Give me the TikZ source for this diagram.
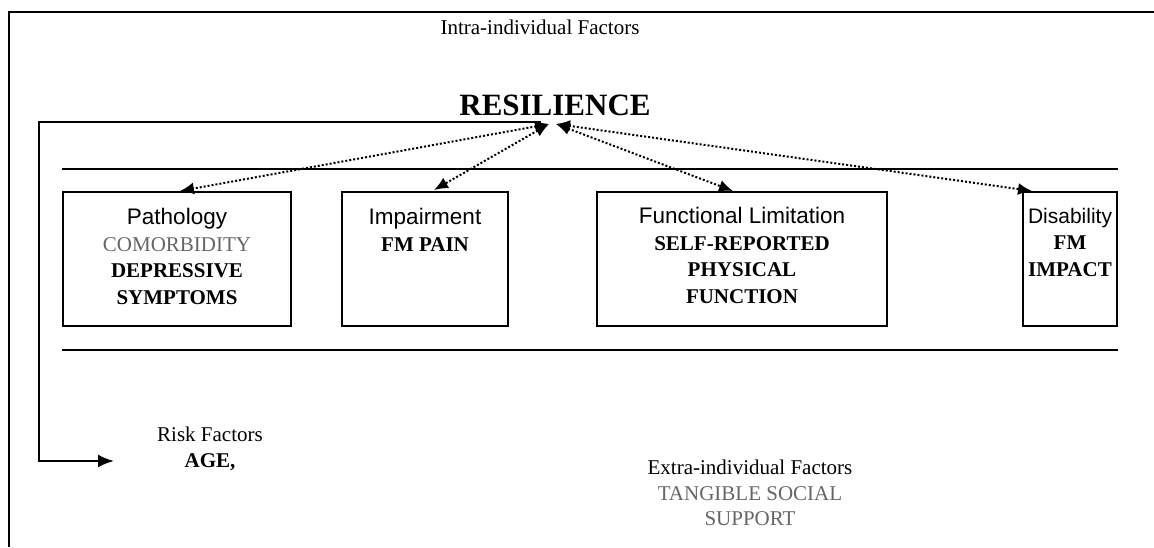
\documentclass[tikz,border=0pt]{standalone}
\usepackage{fontspec}
\setmainfont{Liberation Serif}
\setsansfont{Liberation Sans}
\usetikzlibrary{arrows.meta}
\definecolor{softgray}{HTML}{666666}
% sans heading line inside each stage box
\newcommand\stagehead{\fontsize{22.5}{26.5}\selectfont\sffamily}
\begin{document}
\begin{tikzpicture}[x=1pt,y=-1pt,
  frameline/.style={line width=2.4pt},
  rule/.style={line width=2.2pt},
  stagebox/.style={draw,line width=2.2pt},
  stagetext/.style={anchor=north,align=center,inner sep=0pt,
    font=\fontsize{21}{26.5}\selectfont},
  plain/.style={align=center,inner sep=0pt,font=\fontsize{21}{25.5}\selectfont},
  link/.style={line width=2pt,dash pattern=on 2pt off 2pt,
    {Latex[length=14pt,width=12pt]}-{Latex[length=14pt,width=12pt]}},
  feed/.style={line width=2.2pt,-{Latex[length=16pt,width=13pt]}},
]
\useasboundingbox (0,0) rectangle (1154,547);

% outer frame
\draw[frameline] (1154,12) -- (9,12) -- (9,547);

% headings
\node[plain] (intra) at (540,27) {Intra-individual Factors};
\node[inner sep=0pt,font=\fontsize{31}{34}\selectfont\bfseries] (res) at (555,105) {RESILIENCE};

% horizontal rules
\draw[rule] (62,169) coordinate (r1a) -- (1118,169) coordinate (r1b);
\draw[rule] (62,350) coordinate (r2a) -- (1118,350) coordinate (r2b);

% stage boxes
\draw[stagebox] (63,192) rectangle (291,326);
\draw[stagebox] (342,192) rectangle (508,326);
\draw[stagebox] (597,192) rectangle (887,326);
\draw[stagebox] (1023,192) rectangle (1117,326);

\node[stagetext] (path) at (177,208) {{\stagehead Pathology}\\
  \textcolor{softgray}{COMORBIDITY}\\ \textbf{DEPRESSIVE}\\ \textbf{SYMPTOMS}};
\node[stagetext] (imp) at (425,208) {{\stagehead Impairment}\\ \textbf{FM PAIN}};
\node[stagetext] (func) at (742,207) {{\stagehead Functional Limitation}\\
  \textbf{SELF-REPORTED}\\ \textbf{PHYSICAL}\\ \textbf{FUNCTION}};
\node[stagetext] (dis) at (1070,208) {{\sffamily Disability}\\
  \textbf{FM}\\ \textbf{IMPACT}};

% arrow end points
\coordinate (hubL) at (549,124);
\coordinate (hubR) at (556,124);
\coordinate (tPath) at (180,191);
\coordinate (tImp) at (434,190);
\coordinate (tFunc) at (733,191);
\coordinate (tDis) at (1032,191);

\draw[link] (hubL) -- (tPath);
\draw[link] (hubL) -- (tImp);
\draw[link] (hubR) -- (tFunc);
\draw[link] (hubR) -- (tDis);

% feedback path to the risk factors
\node[plain] (risk) at (210,449) {Risk Factors\\ \textbf{AGE,}};
\coordinate (fbStart) at (541,122);
\coordinate (fbEnd) at (114,461);
\draw[feed] (fbStart) -- (39,122) |- (fbEnd);

% extra-individual factors
\node[plain] (extra) at (750,493) {Extra-individual Factors\\
  \textcolor{softgray}{TANGIBLE SOCIAL}\\ \textcolor{softgray}{SUPPORT}};
\end{tikzpicture}
\end{document}
